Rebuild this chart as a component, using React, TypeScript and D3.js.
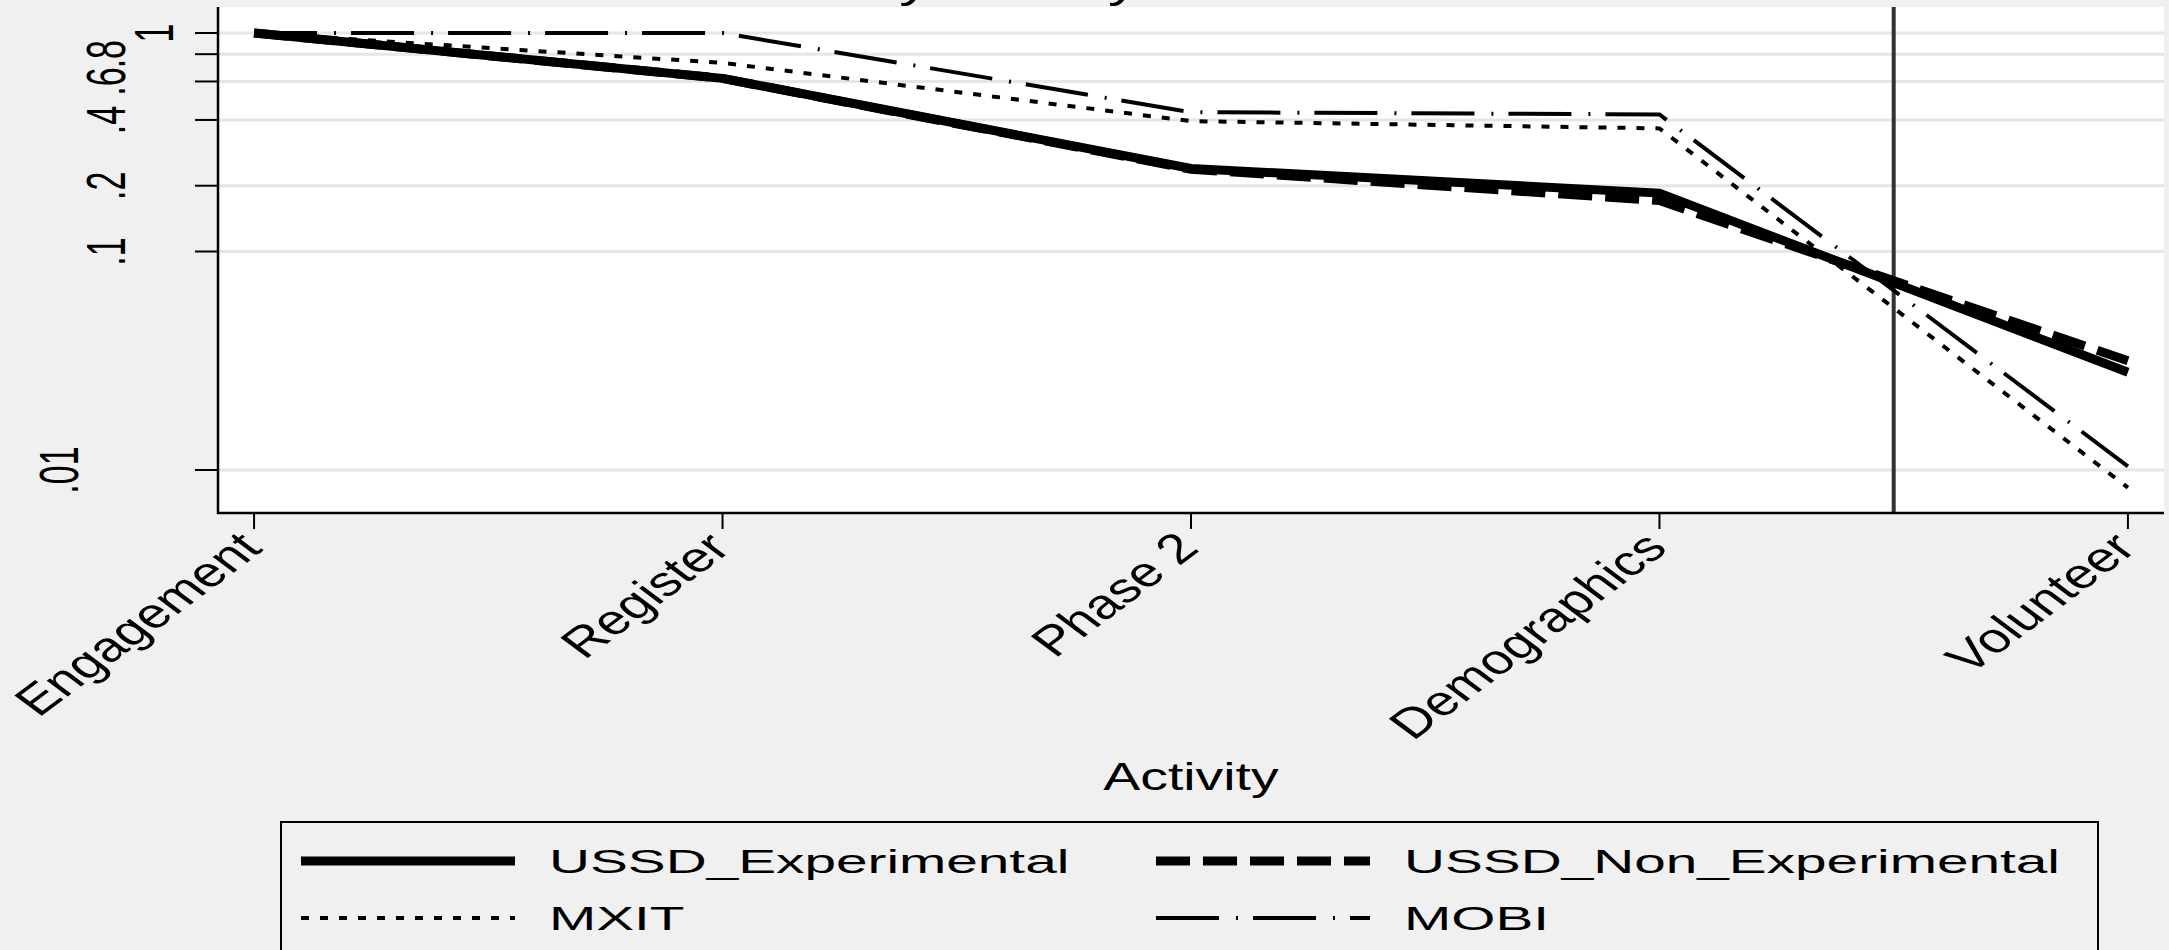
import React from "react";
import * as d3 from "d3";

const categories = ["Engagement", "Register", "Phase 2", "Demographics", "Volunteer"];
const ussdExperimental = [1, 0.62, 0.24, 0.185, 0.028];
const ussdNonExperimental = [1, 0.62, 0.238, 0.171, 0.0316];
const mxit = [1, 0.73, 0.395, 0.366, 0.0083];
const mobi = [1, 1.0, 0.434, 0.424, 0.0104];
const yTicks = [1, 0.8, 0.6, 0.4, 0.2, 0.1, 0.01];
const yTickLabels = ["1", ".8", ".6", ".4", ".2", ".1", ".01"];
const seriesNames = ["USSD_Experimental", "USSD_Non_Experimental", "MXIT", "MOBI"];
const refLineAt = 3.5;

const W = 2169;
const H = 950;
const BG = "#f0f0f0";
const FONT = "'Liberation Sans', Arial, Helvetica, sans-serif";

const plot = { left: 218, right: 2164, top: 7, bottom: 513 };

const styles = [
  { width: 9, dash: "none" },
  { width: 9, dash: "34,13" },
  { width: 4, dash: "8,11" },
  { width: 4, dash: "63,17,2,15" },
];

export default function App() {
  const x = d3
    .scalePoint<string>()
    .domain(categories)
    .range([plot.left, plot.right])
    .padding(0.077);
  const step = x.step();
  const y = d3.scaleLog().domain([0.01, 1]).range([470, 33]);

  const allSeries = [ussdExperimental, ussdNonExperimental, mxit, mobi];
  const line = d3
    .line<number>()
    .x((_, i) => x(categories[i]) as number)
    .y((d) => y(d));

  const refX = (x(categories[Math.floor(refLineAt)]) as number) + (refLineAt - Math.floor(refLineAt)) * step;

  const legendCols = [301, 1156];
  const legendRows = [861, 918];

  return (
    <svg
      width={W}
      height={H}
      style={{ position: "absolute", left: 0, top: 0, display: "block" }}
      fontFamily={FONT}
    >
      <rect x={0} y={0} width={W} height={H} fill={BG} />
      {/* title, mostly above the top edge as in the reference */}
      <text
        transform={`translate(639,-3) scale(1.4,1)`}
        fontSize={44}
        fill="#000"
      >
        Attrition by Activity
      </text>
      <rect
        x={plot.left}
        y={plot.top}
        width={plot.right - plot.left}
        height={plot.bottom - plot.top}
        fill="#fff"
      />
      <defs>
        <clipPath id="plotclip">
          <rect
            x={plot.left}
            y={plot.top}
            width={plot.right - plot.left}
            height={plot.bottom - plot.top}
          />
        </clipPath>
      </defs>
      {yTicks.map((t) => (
        <line
          key={"g" + t}
          x1={plot.left}
          x2={plot.right}
          y1={y(t)}
          y2={y(t)}
          stroke="#e6e6e6"
          strokeWidth={3}
        />
      ))}
      <line
        x1={refX}
        x2={refX}
        y1={plot.top}
        y2={plot.bottom}
        stroke="#333"
        strokeWidth={4}
      />
      <g clipPath="url(#plotclip)">
        {allSeries.map((s, i) => (
          <path
            key={"s" + i}
            d={line(s) || ""}
            fill="none"
            stroke="#000"
            strokeWidth={styles[i].width}
            strokeDasharray={styles[i].dash}
            strokeLinejoin="miter"
          />
        ))}
      </g>
      <line x1={plot.left} x2={plot.left} y1={plot.top} y2={plot.bottom + 1} stroke="#000" strokeWidth={2.5} />
      <line x1={plot.left - 1} x2={plot.right} y1={plot.bottom} y2={plot.bottom} stroke="#000" strokeWidth={2.5} />
      {yTicks.map((t, i) => (
        <g key={"yt" + t}>
          <line x1={plot.left - 23} x2={plot.left} y1={y(t)} y2={y(t)} stroke="#000" strokeWidth={2} />
          <text
            transform={`translate(${200 - 47.5 * yTickLabels[i].length},${y(t)}) scale(1.65,1) rotate(-90)`}
            textAnchor="middle"
            dy="0.36em"
            fontSize={34}
            fill="#000"
          >
            {yTickLabels[i]}
          </text>
        </g>
      ))}
      {categories.map((c) => {
        const cx = x(c) as number;
        return (
          <g key={"xt" + c}>
            <line x1={cx} x2={cx} y1={plot.bottom} y2={plot.bottom + 16} stroke="#000" strokeWidth={2} />
            <text
              transform={`translate(${cx + 10},550) scale(1.34,1) rotate(-45)`}
              textAnchor="end"
              fontSize={42}
              fill="#000"
            >
              {c}
            </text>
          </g>
        );
      })}
      <text
        transform={`translate(${(plot.left + plot.right) / 2},790) scale(1.42,1)`}
        textAnchor="middle"
        fontSize={39}
        fill="#000"
      >
        Activity
      </text>
      <rect x={281} y={822} width={1817} height={200} fill={BG} stroke="#000" strokeWidth={2} />
      {seriesNames.map((n, i) => {
        const col = i % 2;
        const row = Math.floor(i / 2);
        const lx = legendCols[col];
        const ly = legendRows[row];
        return (
          <g key={"lg" + n}>
            <line
              x1={lx}
              x2={lx + 214}
              y1={ly}
              y2={ly}
              stroke="#000"
              strokeWidth={styles[i].width}
              strokeDasharray={styles[i].dash}
            />
            <text
              transform={`translate(${lx + 248},${ly + 12}) scale(1.72,1)`}
              fontSize={33}
              fill="#000"
            >
              {n}
            </text>
          </g>
        );
      })}
    </svg>
  );
}
